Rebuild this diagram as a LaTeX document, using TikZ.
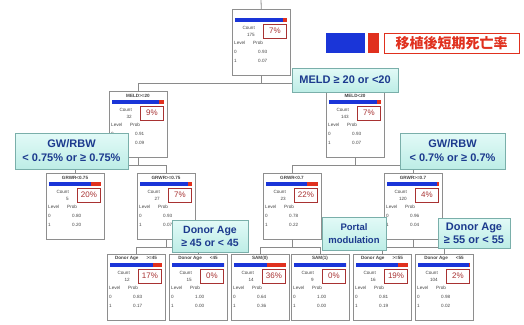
\documentclass[tikz,border=0pt]{standalone}
\usepackage{fontspec}
\setmainfont{Liberation Sans}
\newfontfamily\jpfont{Noto Sans CJK JP}
\usetikzlibrary{shadows}

\definecolor{barblue}{HTML}{1A35D8}
\definecolor{barred}{HTML}{E0301E}
\definecolor{pctred}{HTML}{A83232}
\definecolor{boxgray}{HTML}{8E8E8E}
\definecolor{conngray}{HTML}{8A8A8A}
\definecolor{lbltop}{HTML}{E2FAF7}
\definecolor{lblbot}{HTML}{BDEDE6}
\definecolor{lblborder}{HTML}{7AAFAA}
\definecolor{lbltext}{HTML}{1C3A8E}
\definecolor{txtgray}{HTML}{444444}

\tikzset{
  ctbox/.style={draw=boxgray, line width=0.6pt, fill=white, minimum width=58pt, minimum height=66pt, inner sep=0pt},
  smalltxt/.style={font=\fontsize{4.6}{5}\selectfont, text=txtgray, inner sep=0pt},
  hdrtxt/.style={font=\fontsize{4.6}{5}\selectfont\bfseries, text=txtgray, inner sep=0pt},
  pctbox/.style={draw=pctred, line width=0.8pt, minimum width=23pt, minimum height=14pt, inner sep=0pt, text=pctred, font=\fontsize{8}{9}\selectfont},
  conn/.style={draw=conngray, line width=0.8pt},
  lbl/.style={draw=lblborder, line width=0.8pt, top color=lbltop, bottom color=lblbot, text=lbltext, align=center, inner sep=0pt,
    font=\bfseries\fontsize{10.5}{13}\selectfont, drop shadow={opacity=0.25, shadow xshift=1pt, shadow yshift=-1pt}}
}

% one tree node: name, x, y, header, count, pct, prob0, prob1
\newcommand{\ctnode}[8]{%
  \begin{scope}[shift={(#2,#3)}]
    \node[ctbox, anchor=north west] (#1) at (0,0) {};
    \node[hdrtxt] (#1hdr) at (29,4.5) {#4};
    \fill[barblue] (3,9) rectangle (55,13);
    \fill[barred] ({55-52*#8},9) rectangle (55,13);
    \node[smalltxt, anchor=east] (#1cnt) at (23,19) {Count};
    \node[smalltxt, anchor=east] (#1num) at (23,25.5) {#5};
    \node[pctbox] (#1pct) at (43,22) {#6\%};
    \node[smalltxt, anchor=west] (#1lev) at (2,34) {Level};
    \node[smalltxt, anchor=west] (#1prb) at (21,34) {Prob};
    \node[smalltxt, anchor=west] (#1lza) at (2,43) {0};
    \node[smalltxt, anchor=west] (#1lzb) at (26,43) {#7};
    \node[smalltxt, anchor=west] (#1loa) at (2,52) {1};
    \node[smalltxt, anchor=west] (#1lob) at (26,52) {#8};
  \end{scope}}

\begin{document}
\begin{tikzpicture}[x=1pt, y=-1pt]
  \useasboundingbox (0,0) rectangle (524,324);

  % tree nodes
  \ctnode{root}{232}{9}{}{175}{7}{0.93}{0.07}
  \ctnode{meldA}{109}{91}{MELD>=20}{32}{9}{0.91}{0.09}
  \ctnode{meldB}{326}{91}{MELD<20}{143}{7}{0.93}{0.07}
  \ctnode{grwrA}{46}{173}{GRWR<0.75}{5}{20}{0.80}{0.20}
  \ctnode{grwrB}{137}{173}{GRWR>=0.75}{27}{7}{0.93}{0.07}
  \ctnode{grwrC}{263}{173}{GRWR<0.7}{23}{22}{0.78}{0.22}
  \ctnode{grwrD}{384}{173}{GRWR>=0.7}{120}{4}{0.96}{0.04}
  \ctnode{ageA}{107}{254}{Donor Age\hspace{8pt}>=45}{12}{17}{0.83}{0.17}
  \ctnode{ageB}{169}{254}{Donor Age\hspace{8pt}<45}{15}{0}{1.00}{0.00}
  \ctnode{samA}{231}{254}{SAM(0)}{14}{36}{0.64}{0.36}
  \ctnode{samB}{291}{254}{SAM(1)}{9}{0}{1.00}{0.00}
  \ctnode{ageC}{353}{254}{Donor Age\hspace{8pt}>=55}{16}{19}{0.81}{0.19}
  \ctnode{ageD}{415}{254}{Donor Age\hspace{8pt}<55}{104}{2}{0.98}{0.02}

  % connectors
  \coordinate (top) at (261,0);
  \draw[conn] (top) -- (root.north);
  \draw[conn] (root.south) -- ++(0,8) -| (meldA.north);
  \draw[conn] (root.south) -- ++(0,8) -| (meldB.north);
  \draw[conn] (meldA.south) -- ++(0,8) -| (grwrA.north);
  \draw[conn] (meldA.south) -- ++(0,8) -| (grwrB.north);
  \draw[conn] (meldB.south) -- ++(0,8) -| (grwrC.north);
  \draw[conn] (meldB.south) -- ++(0,8) -| (grwrD.north);
  \draw[conn] (grwrB.south) -- ++(0,8) -| (ageA.north);
  \draw[conn] (grwrB.south) -- ++(0,8) -| (ageB.north);
  \draw[conn] (grwrC.south) -- ++(0,8) -| (samA.north);
  \draw[conn] (grwrC.south) -- ++(0,8) -| (samB.north);
  \draw[conn] (grwrD.south) -- ++(0,8) -| (ageC.north);
  \draw[conn] (grwrD.south) -- ++(0,8) -| (ageD.north);

  % legend
  \node[fill=barblue, minimum width=39pt, minimum height=20pt, inner sep=0pt] (legb) at (345.5,43) {};
  \node[fill=barred, minimum width=11pt, minimum height=20pt, inner sep=0pt] (legr) at (373.5,43) {};
  \node[draw=barred, line width=0.8pt, minimum width=135pt, minimum height=20pt, inner sep=0pt,
    text=barred, font=\jpfont\bfseries\fontsize{14}{16}\selectfont] (legt) at (451.5,43) {移植後短期死亡率};

  % split labels
  \node[lbl, minimum width=106pt, minimum height=24pt, font=\bfseries\fontsize{11}{13}\selectfont] (meldlbl) at (345,80) {MELD ≥ 20 or <20};
  \node[lbl, minimum width=113pt, minimum height=36pt, font=\bfseries\fontsize{11}{14}\selectfont] (gwlblA) at (71.5,151) {GW/RBW\\< 0.75\% or ≥ 0.75\%};
  \node[lbl, minimum width=105pt, minimum height=36pt, font=\bfseries\fontsize{11}{14}\selectfont] (gwlblB) at (452.5,151) {GW/RBW\\< 0.7\% or ≥ 0.7\%};
  \node[lbl, minimum width=76pt, minimum height=32pt] (agelblA) at (210,236) {Donor Age\\≥ 45 or < 45};
  \node[lbl, minimum width=64pt, minimum height=33pt, font=\bfseries\fontsize{9.5}{13}\selectfont] (portlbl) at (354,233.5) {Portal\\modulation};
  \node[lbl, minimum width=72pt, minimum height=30pt, font=\bfseries\fontsize{11}{13}\selectfont] (agelblB) at (474,233) {Donor Age\\≥ 55 or < 55};
\end{tikzpicture}
\end{document}
